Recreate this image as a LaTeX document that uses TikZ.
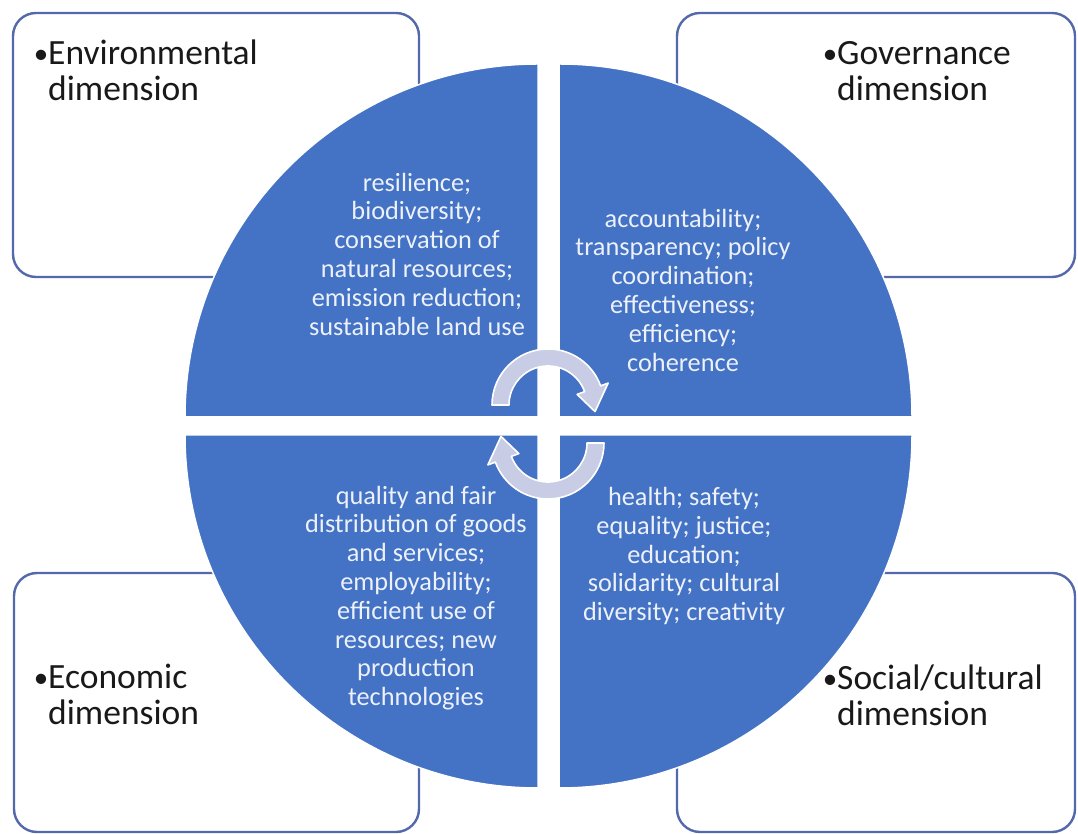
\documentclass[tikz,border=0pt]{standalone}
\usepackage{fontspec}
\setmainfont{Carlito}
\usepackage{tikz}

\definecolor{quadblue}{RGB}{68,114,196}
\definecolor{boxline}{RGB}{84,104,172}
\definecolor{arrowfill}{RGB}{200,204,228}
\definecolor{quadtext}{RGB}{236,241,250}
\definecolor{labeltext}{RGB}{25,25,25}

\newcommand{\dimbullet}{\llap{\raisebox{1pt}{\fontsize{29}{29}\selectfont •}}}

\tikzset{
  dimbox/.style={draw=boxline, line width=2.4pt, fill=white, rounded corners=23pt, inner sep=0pt},
  dimlabel/.style={anchor=base west, align=left, inner sep=0pt, text=labeltext, font=\fontsize{35.5}{36}\selectfont},
  quadrant/.style={fill=quadblue, draw=white, line width=1.5pt},
  quadlabel/.style={align=center, text=quadtext, inner sep=0pt, font=\fontsize{26.3}{28.8}\selectfont},
  cyclearrow/.style={fill=arrowfill, draw=white, line width=1.6pt, line join=round}
}

\begin{document}
\begin{tikzpicture}[x=1pt, y=1pt]
  \useasboundingbox[fill=white] (0,0) rectangle (1078,834);
  \node[dimbox, minimum width=406, minimum height=264] (envbox) at (216,689) {};
  \node[dimbox, minimum width=398, minimum height=264] (govbox) at (876,689) {};
  \node[dimbox, minimum width=405, minimum height=259] (ecobox) at (216.5,131.5) {};
  \node[dimbox, minimum width=398, minimum height=259] (socbox) at (876,131.5) {};
  \draw[quadrant] (538,417) -- (185,417) arc (180:90:353) -- cycle;
  \draw[quadrant] (559,417) -- (559,770) arc (90:0:353) -- cycle;
  \draw[quadrant] (538,399) -- (538,46) arc (270:180:353) -- cycle;
  \draw[quadrant] (559,399) -- (912,399) arc (0:-90:353) -- cycle;
  \node[dimlabel] (envlabel) at (48,733) {\dimbullet Environmental\\dimension};
  \node[dimlabel] (govlabel) at (837,733) {\dimbullet Governance\\dimension};
  \node[dimlabel] (ecolabel) at (48,109) {\dimbullet Economic\\dimension};
  \node[dimlabel] (soclabel) at (837,108) {\dimbullet Social/cultural\\dimension};
  \node[quadlabel] (envtext) at (417,580) {resilience;\\biodiversity;\\conservation of\\natural resources;\\emission reduction;\\sustainable land use};
  \node[quadlabel] (govtext) at (683,544) {accountability;\\transparency; policy\\coordination;\\effectiveness;\\efficiency;\\coherence};
  \node[quadlabel] (ecotext) at (416,236) {quality and fair\\distribution of goods\\and services;\\employability;\\efficient use of\\resources; new\\production\\technologies};
  \node[quadlabel] (soctext) at (684,278) {health; safety;\\equality; justice;\\education;\\solidarity; cultural\\diversity; creativity};
  \draw[cyclearrow, shift={(548,429)}] (180:56) arc (180:20:56) -- (20:64) -- (-8:47.5) -- (20:31) -- (20:39) arc (20:180:39) -- cycle;
  \draw[cyclearrow, shift={(548,391)}] (0:56) arc (0:-160:56) -- (200:64) -- (172:47.5) -- (200:31) -- (200:39) arc (-160:0:39) -- cycle;
\end{tikzpicture}
\end{document}
